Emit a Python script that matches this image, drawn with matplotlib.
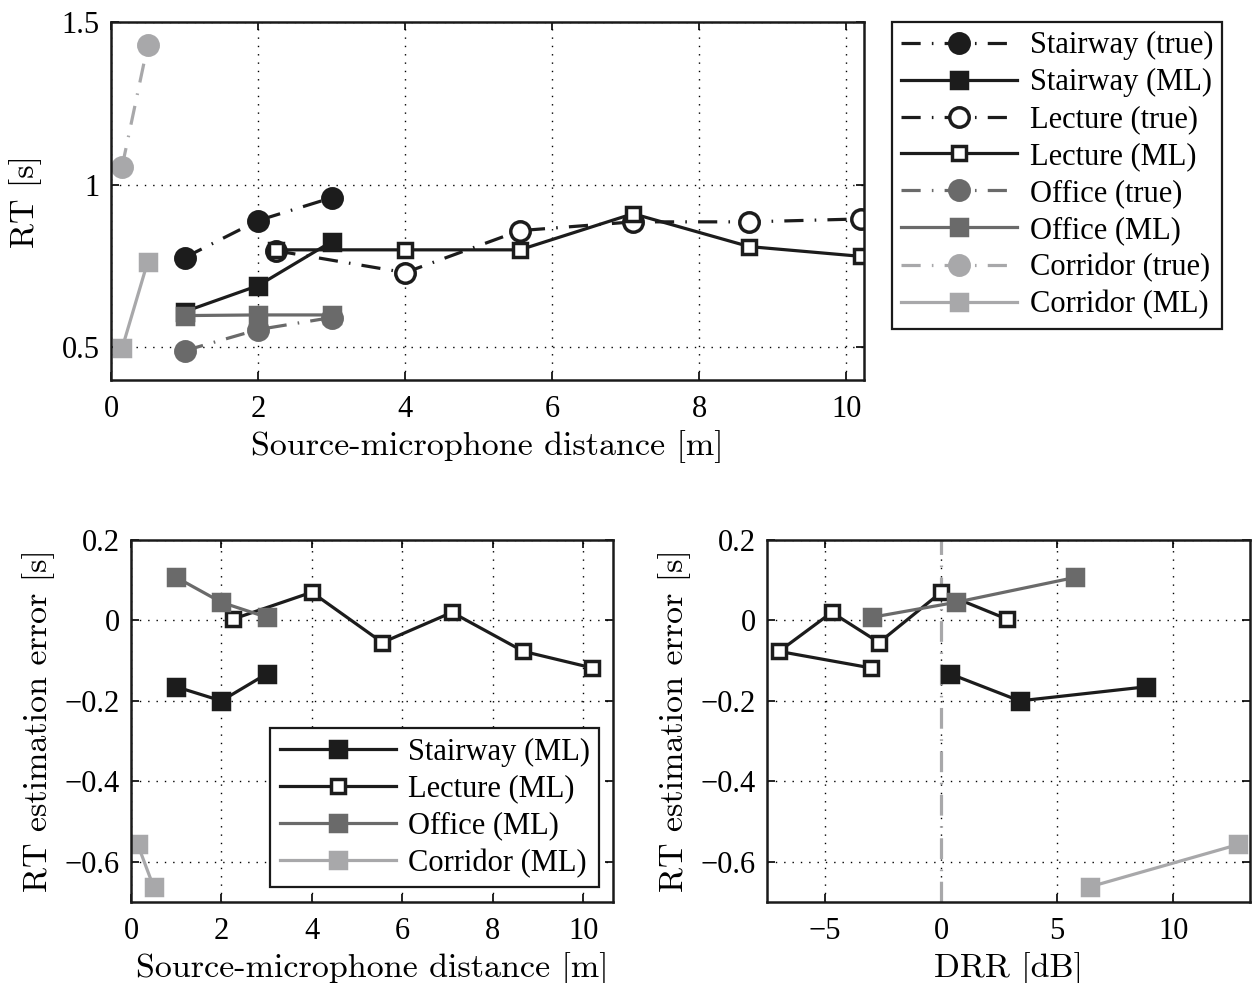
import numpy as np
import matplotlib
matplotlib.use("Agg")
import matplotlib.pyplot as plt

plt.rcParams['font.family'] = ['Liberation Serif', 'DejaVu Serif']
plt.rcParams['axes.unicode_minus'] = True

# source-microphone distances [m]
dist_stair = [1.0, 2.0, 3.0]
dist_lecture = [2.25, 4.0, 5.56, 7.1, 8.68, 10.2]
dist_office = [1.0, 2.0, 3.0]
dist_corridor = [0.15, 0.5]

# reverberation time, true and ML estimate [s]
rt_stair_true = [0.776, 0.89, 0.96]
rt_stair_ml = [0.61, 0.69, 0.825]
rt_lecture_true = [0.797, 0.73, 0.859, 0.886, 0.886, 0.895]
rt_lecture_ml = [0.80, 0.80, 0.80, 0.911, 0.81, 0.78]
rt_office_true = [0.49, 0.555, 0.592]
rt_office_ml = [0.598, 0.60, 0.60]
rt_corridor_true = [1.055, 1.43]
rt_corridor_ml = [0.497, 0.764]

# estimation errors [s]
err_stair = [-0.165, -0.2, -0.133]
err_lecture = [0.003, 0.07, -0.055, 0.02, -0.077, -0.118]
err_office = [0.107, 0.045, 0.008]
err_corridor = [-0.557, -0.662]

# direct-to-reverberant ratio [dB]
drr_stair = [8.84, 3.38, 0.39]
drr_lecture = [2.85, 0.0, -2.67, -4.71, -6.98, -3.03]
drr_office = [5.78, 0.63, -2.96]
drr_corridor = [12.8, 6.42]

BLACK = '#1c1c1c'
DARK = '#6a6a6a'
LIGHT = '#a8a8aa'
LW = 2.3
DASHDOT = (6.0, 3.5, 0.5, 3.5)
LABEL_FONT = dict(family=['cmr10', 'Liberation Serif'], fontsize=24.5)

fig = plt.figure(figsize=(12.53, 9.83), dpi=100)
ax1 = fig.add_axes([0.0886, 0.6134, 0.6009, 0.3642])
ax2 = fig.add_axes([0.1045, 0.0824, 0.3847, 0.3683])
ax3 = fig.add_axes([0.6121, 0.0824, 0.3855, 0.3683])


def style(ax):
    ax.grid(True, linestyle=(0, (1, 5)), color='black', linewidth=1.0)
    ax.tick_params(direction='in', top=True, right=True, length=6,
                   width=1.2, labelsize=22, pad=8)
    ax.tick_params(axis='x', pad=11)
    for s in ax.spines.values():
        s.set_linewidth(1.8)
        s.set_color('#1a1a1a')


def true_line(ax, x, y, c, face, label):
    ax.plot(x, y, color=c, lw=LW, dashes=DASHDOT, marker='o', ms=14,
            mfc=face, mec=c, mew=2.5, label=label)


def ml_line(ax, x, y, c, face, label, ms=11):
    ax.plot(x, y, color=c, lw=LW, ls='-', marker='s', ms=ms,
            mfc=face, mec=c, mew=2.5, label=label)


def legend(ax, loc, anchor):
    leg = ax.legend(loc=loc, bbox_to_anchor=anchor, bbox_transform=fig.transFigure,
                    fontsize=22, handlelength=3.8, labelspacing=0.26,
                    borderpad=0.3, handletextpad=0.4, borderaxespad=0,
                    fancybox=False, edgecolor='#1a1a1a', framealpha=1)
    leg.get_frame().set_linewidth(1.6)
    return leg


# top: RT vs distance
true_line(ax1, dist_stair, rt_stair_true, BLACK, BLACK, 'Stairway (true)')
ml_line(ax1, dist_stair, rt_stair_ml, BLACK, BLACK, 'Stairway (ML)')
true_line(ax1, dist_lecture, rt_lecture_true, BLACK, 'white', 'Lecture (true)')
ml_line(ax1, dist_lecture, rt_lecture_ml, BLACK, 'white', 'Lecture (ML)', ms=10)
true_line(ax1, dist_office, rt_office_true, DARK, DARK, 'Office (true)')
ml_line(ax1, dist_office, rt_office_ml, DARK, DARK, 'Office (ML)')
true_line(ax1, dist_corridor, rt_corridor_true, LIGHT, LIGHT, 'Corridor (true)')
ml_line(ax1, dist_corridor, rt_corridor_ml, LIGHT, LIGHT, 'Corridor (ML)')
ax1.set_xlim(0, 10.24)
ax1.set_ylim(0.4, 1.5)
ax1.set_xticks([0, 2, 4, 6, 8, 10])
ax1.set_yticks([0.5, 1, 1.5])
ax1.set_yticklabels(['0.5', '1', '1.5'])
ax1.set_xlabel('Source-microphone distance [m]', labelpad=4, **LABEL_FONT)
ax1.set_ylabel('RT [s]', labelpad=14, **LABEL_FONT)
style(ax1)
legend(ax1, 'upper left', (892 / 1253, 1 - 22 / 983))

# bottom left: error vs distance
ml_line(ax2, dist_stair, err_stair, BLACK, BLACK, 'Stairway (ML)')
ml_line(ax2, dist_lecture, err_lecture, BLACK, 'white', 'Lecture (ML)', ms=10)
ml_line(ax2, dist_office, err_office, DARK, DARK, 'Office (ML)')
ml_line(ax2, dist_corridor, err_corridor, LIGHT, LIGHT, 'Corridor (ML)')
ax2.set_xlim(0, 10.66)
ax2.set_ylim(-0.7, 0.2)
ax2.set_xticks([0, 2, 4, 6, 8, 10])
ax2.set_yticks([-0.6, -0.4, -0.2, 0, 0.2])
ax2.set_yticklabels(['\u22120.6', '\u22120.4', '\u22120.2', '0', '0.2'])
ax2.set_xlabel('Source-microphone distance [m]', labelpad=4, **LABEL_FONT)
ax2.set_ylabel('RT estimation error [s]', labelpad=7, **LABEL_FONT)
style(ax2)
legend(ax2, 'lower right', (599 / 1253, 1 - 887 / 983))

# bottom right: error vs DRR
ax3.axvline(0, color=LIGHT, lw=LW, dashes=(6.5, 3.3, 0.5, 3.3))
ml_line(ax3, drr_stair, err_stair, BLACK, BLACK, 'Stairway (ML)')
ml_line(ax3, drr_lecture, err_lecture, BLACK, 'white', 'Lecture (ML)', ms=10)
ml_line(ax3, drr_office, err_office, DARK, DARK, 'Office (ML)')
ml_line(ax3, drr_corridor, err_corridor, LIGHT, LIGHT, 'Corridor (ML)')
ax3.set_xlim(-7.5, 13.3)
ax3.set_ylim(-0.7, 0.2)
ax3.set_xticks([-5, 0, 5, 10])
ax3.set_xticklabels(['\u22125', '0', '5', '10'])
ax3.set_yticks([-0.6, -0.4, -0.2, 0, 0.2])
ax3.set_yticklabels(['\u22120.6', '\u22120.4', '\u22120.2', '0', '0.2'])
ax3.set_xlabel('DRR [dB]', labelpad=4, **LABEL_FONT)
ax3.set_ylabel('RT estimation error [s]', labelpad=7, **LABEL_FONT)
style(ax3)

fig.savefig('out.png', dpi=100)
